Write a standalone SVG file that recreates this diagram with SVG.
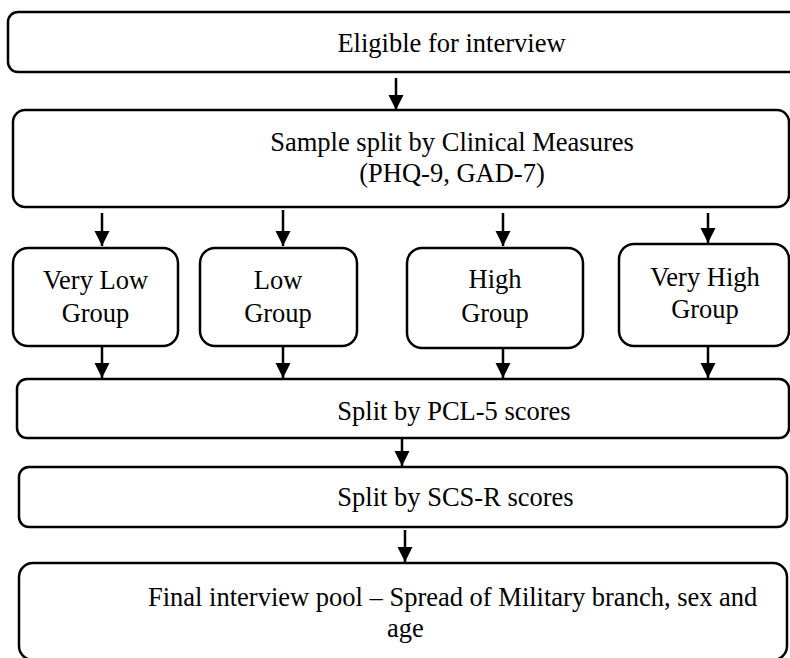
<svg xmlns="http://www.w3.org/2000/svg" width="790" height="658" viewBox="0 0 790 658">
<style>
.box{fill:#fff;stroke:#000;stroke-width:2.5}
.t{font-family:"Liberation Serif","Times New Roman","DejaVu Serif",serif;font-size:26.5px;fill:#000;text-anchor:middle}
.tl{font-family:"Liberation Serif","Times New Roman","DejaVu Serif",serif;font-size:26.5px;fill:#000}
.c{stroke:#000;stroke-width:2.5;fill:none;marker-end:url(#ah)}
</style>
<defs>
<marker id="ah" markerUnits="userSpaceOnUse" markerWidth="16" markerHeight="16" refX="15" refY="7.5" orient="auto">
<path d="M0,0 L15,7.5 L0,15 z" fill="#000"/>
</marker>
</defs>
<rect width="790" height="658" fill="#fff"/>
<g id="eligible">
<rect class="box" x="8" y="12" width="800" height="60" rx="10"/>
<text class="t" x="451.5" y="52">Eligible for interview</text>
</g>
<g id="sample-split">
<rect class="box" x="13" y="110" width="776" height="97" rx="12"/>
<text class="t" x="452" y="151">Sample split by Clinical Measures</text>
<text class="t" x="452" y="182">(PHQ-9, GAD-7)</text>
</g>
<g id="very-low">
<rect class="box" x="13" y="248" width="165" height="98" rx="15"/>
<text class="t" x="95.5" y="289">Very Low</text>
<text class="t" x="95.5" y="322">Group</text>
</g>
<g id="low">
<rect class="box" x="200" y="248" width="157" height="98" rx="15"/>
<text class="t" x="278" y="289">Low</text>
<text class="t" x="278" y="322">Group</text>
</g>
<g id="high">
<rect class="box" x="407" y="248" width="176" height="100" rx="15"/>
<text class="t" x="495" y="288">High</text>
<text class="t" x="495" y="322">Group</text>
</g>
<g id="very-high">
<rect class="box" x="619" y="244" width="170" height="102" rx="15"/>
<text class="t" x="705" y="286">Very High</text>
<text class="t" x="705" y="318">Group</text>
</g>
<g id="pcl5">
<rect class="box" x="17" y="379" width="772" height="59" rx="10"/>
<text class="t" x="454" y="420">Split by PCL-5 scores</text>
</g>
<g id="scsr">
<rect class="box" x="19" y="467" width="768" height="60" rx="10"/>
<text class="t" x="455.5" y="506">Split by SCS-R scores</text>
</g>
<g id="final-pool">
<rect class="box" x="19" y="563" width="768" height="97" rx="14"/>
<text class="tl" x="148" y="606">Final interview pool – Spread of Military branch, sex and</text>
<text class="tl" x="387" y="637">age</text>
</g>
<g id="connectors">
<line class="c" x1="396" y1="78" x2="396" y2="110"/>
<line class="c" x1="102" y1="213" x2="102" y2="246"/>
<line class="c" x1="283" y1="210" x2="283" y2="246"/>
<line class="c" x1="503" y1="213" x2="503" y2="246"/>
<line class="c" x1="708" y1="213" x2="708" y2="243"/>
<line class="c" x1="102" y1="346" x2="102" y2="378"/>
<line class="c" x1="283" y1="346" x2="283" y2="378"/>
<line class="c" x1="503" y1="348" x2="503" y2="378"/>
<line class="c" x1="708" y1="346" x2="708" y2="378"/>
<line class="c" x1="402" y1="438" x2="402" y2="466"/>
<line class="c" x1="405" y1="530" x2="405" y2="562"/>
</g>
</svg>
